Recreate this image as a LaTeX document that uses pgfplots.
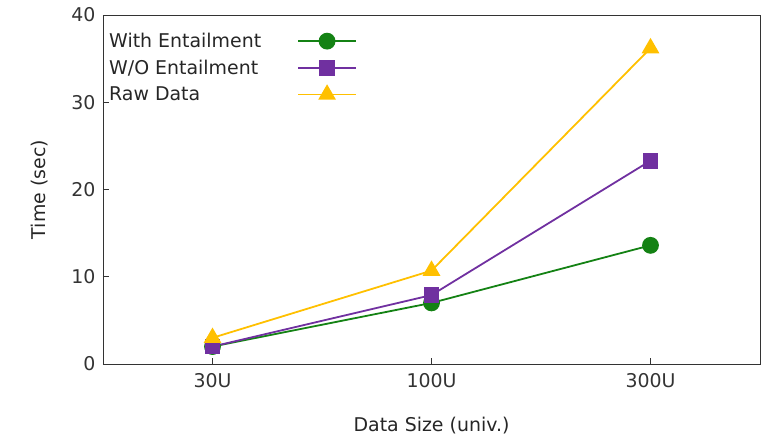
\documentclass[border=0pt]{standalone}
\usepackage{pgfplots}
\pgfplotsset{compat=1.18}
\usepackage{fontspec}
\setmainfont{DejaVu Sans}
\definecolor{cgreen}{RGB}{20,130,20}
\definecolor{cpurple}{RGB}{112,48,160}
\definecolor{cyellow}{RGB}{255,192,0}
\begin{document}
\begin{tikzpicture}
\begin{axis}[
  name=ax, at={(0,0)}, anchor=south west,
  width=657bp, height=349bp, scale only axis,
  xmin=-0.5, xmax=2.5, ymin=0, ymax=40,
  xtick={0,1,2}, xticklabels={30U,100U,300U},
  ytick={0,10,20,30,40},
  xtick pos=bottom, ytick pos=left,
  tick align=inside,
  major tick length=6bp,
  axis line style={line width=1pt, black!80},
  every tick/.style={black!80, line width=0.8pt},
  /pgf/number format/assume math mode=true,
  font=\fontsize{19}{22}\selectfont,
  tick label style={font=\fontsize{19}{22}\selectfont, text=black!80},
  yticklabel style={xshift=-4bp},
  xticklabel style={yshift=-6bp},
  xlabel={Data Size (univ.)},
  ylabel={Time (sec)},
  label style={font=\fontsize{19}{22}\selectfont, text=black!85},
  xlabel style={at={(axis description cs:0.5,0)}, anchor=center, yshift=-62bp},
  ylabel style={at={(axis description cs:0,0.5)}, anchor=center, rotate=0, yshift=63bp},
  legend style={draw=none, fill=none, at={(0,1)}, anchor=north west,
    xshift=4bp, yshift=-16bp,
    font=\fontsize{19}{22}\selectfont, row sep=7bp, text=black!85,
    inner sep=0pt},
  legend cell align=left,
  legend plot pos=right,
  legend image code/.code={
    \draw[line width=1.8pt, mark repeat=2,mark phase=2] plot coordinates {(0bp,0bp) (29bp,0bp) (58bp,0bp)};
  },
]
\addplot[cgreen, line width=1.8pt, mark=*, mark size=7.5bp, mark options={solid}]
  coordinates {(0,2.0) (1,7.0) (2,13.6)};
\addlegendentry{\makebox[186bp][l]{With Entailment}}
\addplot[cpurple, line width=1.8pt, mark=square*, mark size=7bp, mark options={solid}]
  coordinates {(0,2.0) (1,7.9) (2,23.3)};
\addlegendentry{\makebox[186bp][l]{W/O Entailment}}
\addplot[cyellow, line width=1.8pt, mark=triangle*, mark size=8.5bp, mark options={solid}]
  coordinates {(0,3.0) (1,10.7) (2,36.2)};
\addlegendentry{\makebox[186bp][l]{Raw Data}}
\end{axis}
\pgfresetboundingbox
\path[use as bounding box] (ax.south west) ++(-103bp,-74bp) rectangle ++(767bp,438bp);
\end{tikzpicture}
\end{document}
